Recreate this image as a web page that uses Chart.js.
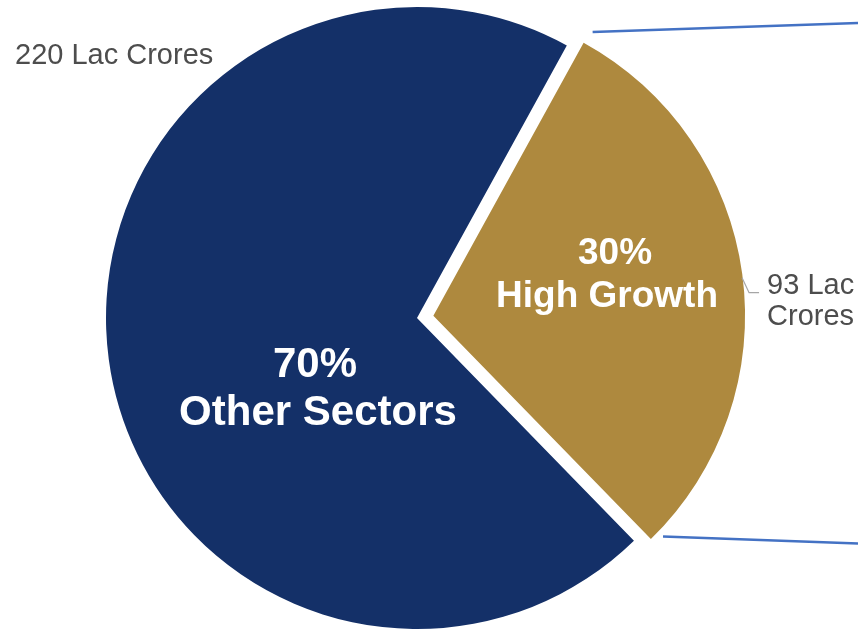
<!DOCTYPE html>
<html>
<head>
<meta charset="utf-8">
<script src="https://cdn.jsdelivr.net/npm/chart.js@4.4.1/dist/chart.umd.min.js"></script>
<style>
  html, body { margin: 0; padding: 0; background: #fff; }
  #wrap { width: 858px; height: 629px; position: relative; }
</style>
</head>
<body>
<div id="wrap"><canvas id="sectorChart"></canvas></div>
<script>
// Market size split, in Lac Crores
const sectors = ['High Growth', 'Other Sectors'];
const values = [93, 220];
const unit = 'Lac Crores';
const sliceColors = ['#AE893E', '#143068'];
const sliceOffsets = [66, 0];

// where a slice really sits once Chart.js has pushed it out by its offset
function sliceCentre(arc) {
    const off = (arc.options.offset || 0) / 4;
    const mid = (arc.startAngle + arc.endAngle) / 2;
    const fix = 1 - Math.sin(Math.min(Math.PI, arc.circumference || 0));
    const d = off * (1 + fix);
    return { x: arc.x + Math.cos(mid) * d, y: arc.y + Math.sin(mid) * d, r: arc.outerRadius };
}

const labelPlugin = {
    id: 'sliceLabels',
    afterDatasetsDraw(chart) {
        const ctx = chart.ctx;
        const arcs = chart.getDatasetMeta(0).data;
        const total = values.reduce((a, b) => a + b, 0);
        const pct = values.map(v => Math.round(v / total * 100) + '%');
        const gold = sliceCentre(arcs[0]);
        const navy = sliceCentre(arcs[1]);
        const family = '"Liberation Sans", Arial, sans-serif';

        ctx.save();

        // connector lines running off to the right
        const sa = arcs[0].startAngle, ea = arcs[0].endAngle;
        const p1 = { x: gold.x + Math.cos(sa) * (gold.r + 14) + 2, y: gold.y + Math.sin(sa) * (gold.r + 14) + 1 };
        const p2 = { x: gold.x + Math.cos(ea) * gold.r + 12, y: gold.y + Math.sin(ea) * gold.r - 2 };
        ctx.strokeStyle = '#4472C4';
        ctx.lineWidth = 2.5;
        ctx.beginPath();
        ctx.moveTo(p1.x, p1.y);
        ctx.lineTo(chart.width, p1.y - 9);
        ctx.moveTo(p2.x, p2.y);
        ctx.lineTo(chart.width, p2.y + 7);
        ctx.stroke();

        // inside labels
        ctx.fillStyle = '#ffffff';
        ctx.textAlign = 'center';
        ctx.textBaseline = 'alphabetic';
        ctx.font = 'bold 37px ' + family;
        ctx.fillText(pct[0], gold.x + 181, gold.y - 52);
        ctx.fillText(sectors[0], gold.x + 173, gold.y - 9);
        ctx.font = 'bold 42px ' + family;
        ctx.fillText(pct[1], navy.x - 102, navy.y + 59);
        ctx.fillText(sectors[1], navy.x - 99, navy.y + 107);

        // outside value labels
        ctx.fillStyle = '#4d4d4d';
        ctx.textAlign = 'left';
        ctx.font = '29px ' + family;
        ctx.fillText(values[1] + ' ' + unit, navy.x - 402, navy.y - 254);
        const words = unit.split(' ');
        ctx.fillText(values[0] + ' ' + words[0], gold.x + 333, gold.y - 22);
        ctx.fillText(words[1], gold.x + 333, gold.y + 9);

        // little leader for the right-hand label
        ctx.strokeStyle = '#a6a6a6';
        ctx.lineWidth = 1.2;
        ctx.beginPath();
        ctx.moveTo(gold.x + 308, gold.y - 38);
        ctx.lineTo(gold.x + 315, gold.y - 23);
        ctx.lineTo(gold.x + 325, gold.y - 23);
        ctx.stroke();

        ctx.restore();
    }
};

const ctx = document.getElementById('sectorChart').getContext('2d');
new Chart(ctx, {
    type: 'pie',
    data: {
        labels: sectors,
        datasets: [{
            data: values,
            backgroundColor: sliceColors,
            borderWidth: 0,
            offset: sliceOffsets,
            hoverOffset: 0
        }]
    },
    options: {
        responsive: true,
        maintainAspectRatio: false,
        animation: false,
        rotation: 28.8,
        radius: 311,
        layout: { padding: { left: 0, right: 24, top: 7, bottom: 0 } },
        plugins: {
            legend: { display: false },
            tooltip: { enabled: false }
        }
    },
    plugins: [labelPlugin]
});
</script>
</body>
</html>
